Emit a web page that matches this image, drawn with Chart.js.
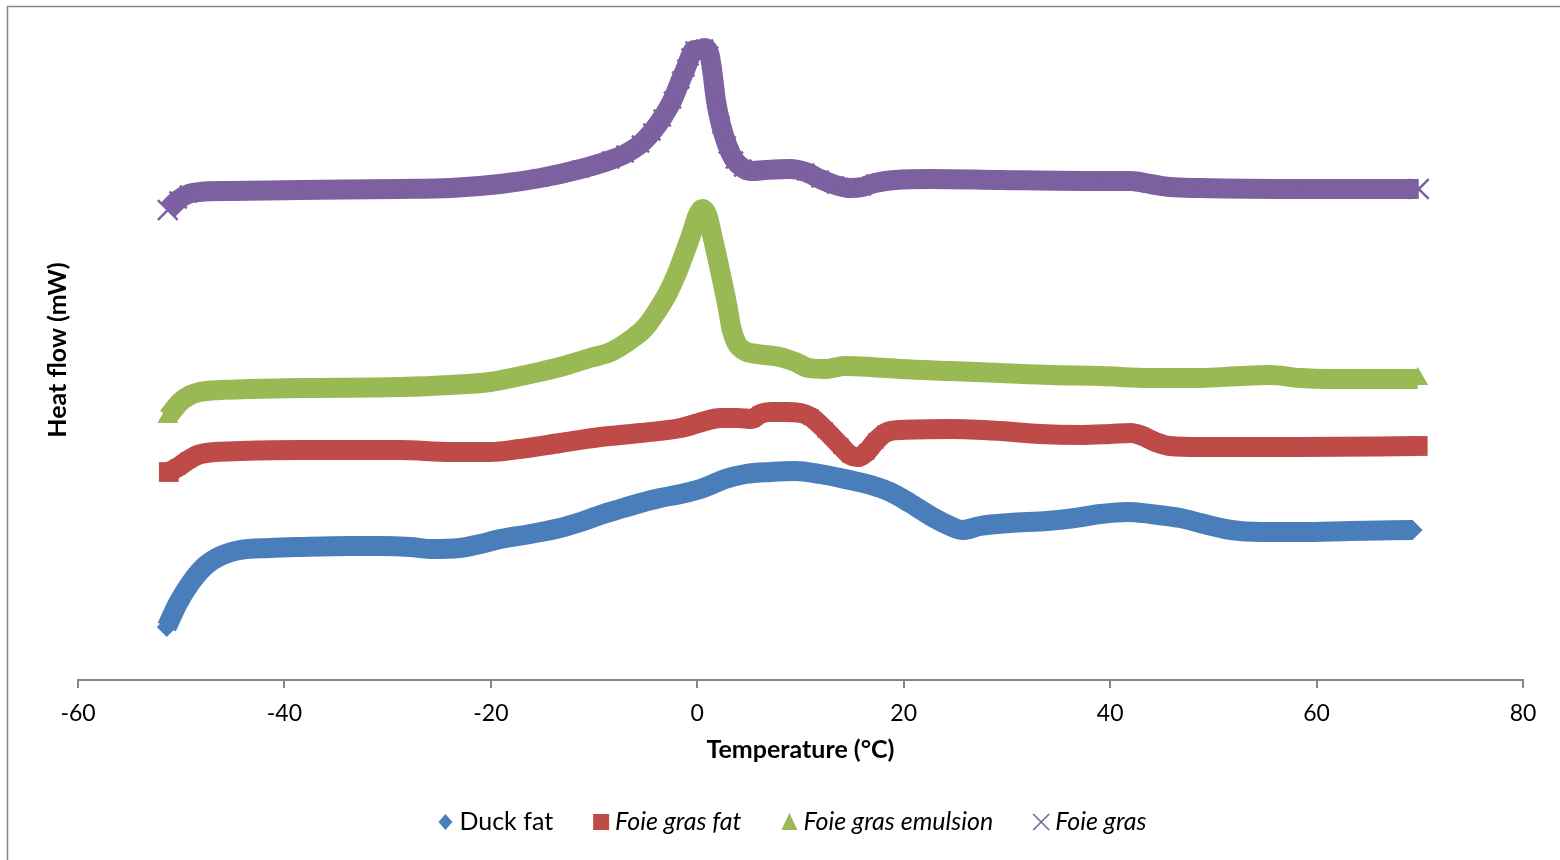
<!DOCTYPE html>
<html>
<head>
<meta charset="utf-8">
<title>DSC heat flow curves</title>
<script src="https://cdn.jsdelivr.net/npm/chart.js@4.4.1/dist/chart.umd.min.js"></script>
<style>
  html, body { margin: 0; padding: 0; background: #ffffff; }
  canvas { display: block; }
</style>
</head>
<body>
<canvas id="dsc" width="1560" height="860"></canvas>
<script>
// Temperature axis (°C)
const tempMin = -60;
const tempMax = 80;
const tempStep = 20;

// Series names, in legend order
const seriesNames = ['Duck fat', 'Foie gras fat', 'Foie gras emulsion', 'Foie gras'];

// Duck fat: temperature (°C) and heat flow (mW, offset curve)
const duckFatTemp = [-51.4, -50.3, -49.1, -47.7, -46.2, -44.3, -41.4, -38.5, -33.6, -30.7, -27.8, -25.9, -23.0, -21.0, -19.1, -16.2, -13.3, -11.3, -9.4, -7.5, -5.5, -3.6, -1.6, 0.3, 1.3, 2.7, 4.7, 7.1, 9.5, 11.9, 14.3, 16.8, 18.7, 20.6, 22.6, 24.5, 25.7, 27.4, 30.3, 33.9, 36.6, 39.1, 41.7, 43.9, 46.8, 48.7, 51.7, 54.6, 58.4, 63.3, 69.3];
const duckFatFlow = [5.3, 7.7, 9.7, 11.4, 12.4, 13.0, 13.2, 13.3, 13.4, 13.4, 13.3, 13.1, 13.2, 13.6, 14.1, 14.6, 15.2, 15.8, 16.5, 17.1, 17.7, 18.2, 18.6, 19.1, 19.5, 20.1, 20.6, 20.8, 20.9, 20.6, 20.1, 19.5, 18.8, 17.7, 16.4, 15.4, 15.0, 15.4, 15.7, 15.9, 16.2, 16.6, 16.8, 16.6, 16.2, 15.7, 15.0, 14.8, 14.8, 14.9, 15.0];

// Foie gras fat
const fgFatTemp = [-51.2, -50.3, -49.3, -48.4, -46.7, -44.3, -38.5, -28.8, -23.9, -20.1, -17.2, -13.3, -9.4, -5.5, -1.6, 0.8, 2.2, 3.9, 5.3, 6.1, 7.1, 8.5, 10.0, 11.0, 12.4, 13.9, 14.8, 15.6, 16.4, 17.3, 18.2, 19.7, 24.5, 29.4, 33.2, 37.1, 40.0, 42.0, 42.9, 44.4, 45.8, 48.7, 58.4, 69.8];
const fgFatFlow = [20.8, 21.3, 22.0, 22.5, 22.8, 22.9, 23.0, 23.0, 22.8, 22.8, 23.1, 23.7, 24.3, 24.7, 25.2, 25.9, 26.2, 26.2, 26.1, 26.6, 26.8, 26.8, 26.7, 26.3, 25.0, 23.4, 22.5, 22.3, 22.8, 23.9, 24.7, 25.0, 25.1, 24.9, 24.6, 24.5, 24.6, 24.7, 24.5, 23.8, 23.4, 23.3, 23.3, 23.4];

// Foie gras emulsion
const fgEmulsionTemp = [-51.3, -50.1, -49.1, -48.2, -46.2, -43.3, -38.5, -28.8, -23.9, -20.1, -16.2, -13.3, -10.4, -8.4, -6.5, -5.0, -3.9, -2.9, -2.0, -1.3, -0.6, 0.0, 0.5, 1.0, 1.5, 1.9, 2.4, 2.9, 3.3, 3.8, 4.6, 5.8, 8.0, 9.5, 10.8, 12.4, 14.3, 16.8, 19.7, 24.5, 29.4, 34.2, 39.1, 43.9, 48.7, 52.6, 55.5, 58.4, 61.3, 66.2, 69.8];
const fgEmulsionFlow = [26.3, 27.8, 28.5, 28.8, 29.0, 29.1, 29.2, 29.3, 29.5, 29.8, 30.6, 31.3, 32.2, 32.8, 34.0, 35.3, 36.9, 38.6, 40.6, 42.5, 44.5, 46.4, 47.1, 46.4, 44.2, 42.4, 40.0, 37.5, 35.2, 33.7, 32.9, 32.6, 32.3, 31.8, 31.2, 31.1, 31.4, 31.3, 31.1, 30.9, 30.7, 30.5, 30.4, 30.2, 30.2, 30.4, 30.5, 30.2, 30.1, 30.1, 30.1];

// Foie gras
const foieGrasTemp = [-51.3, -50.3, -49.3, -48.2, -45.3, -38.5, -28.8, -23.9, -19.1, -15.2, -11.3, -8.4, -7.0, -5.5, -4.4, -3.4, -2.4, -1.6, -1.1, -0.7, -0.3, 0.2, 0.7, 1.2, 1.5, 1.8, 2.3, 2.9, 3.6, 4.4, 5.3, 6.6, 9.0, 10.5, 11.9, 13.4, 14.8, 16.0, 17.2, 19.2, 22.6, 29.4, 39.1, 42.0, 43.9, 45.8, 48.7, 58.4, 69.9];
const foieGrasFlow = [47.0, 48.0, 48.6, 48.8, 48.9, 49.0, 49.1, 49.2, 49.6, 50.2, 51.1, 52.0, 52.6, 53.6, 54.8, 56.2, 58.0, 60.0, 61.2, 62.3, 63.0, 63.0, 63.2, 62.5, 60.5, 58.0, 55.5, 53.5, 52.0, 51.2, 50.9, 51.0, 51.1, 50.8, 50.1, 49.5, 49.2, 49.3, 49.7, 50.0, 50.1, 50.0, 49.9, 49.9, 49.6, 49.3, 49.2, 49.1, 49.1];

const toPoints = (xs, ys) => xs.map((x, i) => ({ x: x, y: ys[i] }));

const palette = {
  duck: '#4A7EBB',
  fat: '#BE4B48',
  emulsion: '#98B954',
  foie: '#7D60A0'
};

Chart.defaults.font.family = 'Lato, "Noto Sans", sans-serif';
Chart.defaults.color = '#000000';

// White page with the chart frame (top and left edges)
const framePlugin = {
  id: 'frame',
  beforeDraw(chart) {
    const ctx = chart.ctx;
    ctx.save();
    ctx.fillStyle = '#ffffff';
    ctx.fillRect(0, 0, chart.width, chart.height);
    ctx.strokeStyle = '#868686';
    ctx.lineWidth = 1.5;
    ctx.beginPath();
    ctx.moveTo(7.5, chart.height);
    ctx.lineTo(7.5, 6.5);
    ctx.lineTo(chart.width, 6.5);
    ctx.stroke();
    ctx.restore();
  }
};

// Legend row under the axis title; the sample names are set in italics
function drawKeyMarker(ctx, style, color, x, y) {
  ctx.save();
  ctx.fillStyle = color;
  ctx.strokeStyle = color;
  ctx.beginPath();
  if (style === 'rectRot') {
    ctx.moveTo(x, y - 8); ctx.lineTo(x + 7, y); ctx.lineTo(x, y + 8); ctx.lineTo(x - 7, y);
    ctx.closePath(); ctx.fill();
  } else if (style === 'rect') {
    ctx.rect(x - 8, y - 8, 16, 16); ctx.fill();
  } else if (style === 'triangle') {
    ctx.moveTo(x, y - 9); ctx.lineTo(x + 8, y + 8); ctx.lineTo(x - 8, y + 8);
    ctx.closePath(); ctx.fill();
  } else {
    ctx.lineWidth = 1.6;
    ctx.moveTo(x - 8, y - 8); ctx.lineTo(x + 8, y + 8);
    ctx.moveTo(x + 8, y - 8); ctx.lineTo(x - 8, y + 8);
    ctx.stroke();
  }
  ctx.restore();
}

const keyPlugin = {
  id: 'seriesKey',
  afterDraw(chart, args, opts) {
    const ctx = chart.ctx;
    const sets = chart.data.datasets;
    const fontFor = (i) => (opts.italic[i] ? 'italic ' : '') + opts.fontSize + 'px ' + Chart.defaults.font.family;
    ctx.save();
    const widths = sets.map((ds, i) => { ctx.font = fontFor(i); return ctx.measureText(ds.label).width; });
    let total = opts.markerHalf + (sets.length - 1) * opts.itemGap;
    widths.forEach(w => { total += opts.textGap + w; });
    let cx = opts.centerX - total / 2 + opts.markerHalf;
    sets.forEach((ds, i) => {
      drawKeyMarker(ctx, ds.pointStyle, ds.borderColor, cx, opts.y);
      ctx.font = fontFor(i);
      ctx.fillStyle = '#000000';
      ctx.textAlign = 'left';
      ctx.textBaseline = 'middle';
      ctx.fillText(ds.label, cx + opts.textGap, opts.y);
      cx += opts.textGap + widths[i] + opts.itemGap;
    });
    ctx.restore();
  }
};

// Marker size: full size at both ends of a curve, flush with the band inside it
function endAwareRadius(endRadius, innerRadius) {
  return (c) => {
    const n = c.dataset.data.length;
    return (c.dataIndex === 0 || c.dataIndex === n - 1) ? endRadius : innerRadius;
  };
}

function series(label, xs, ys, color, style, endRadius, innerRadius, order) {
  return {
    label: label,
    data: toPoints(xs, ys),
    borderColor: color,
    backgroundColor: color,
    borderWidth: 20,
    borderJoinStyle: 'round',
    borderCapStyle: 'butt',
    cubicInterpolationMode: 'monotone',
    pointStyle: style,
    pointRadius: endAwareRadius(endRadius, innerRadius),
    pointHoverRadius: endAwareRadius(endRadius, innerRadius),
    pointBackgroundColor: color,
    pointBorderColor: color,
    pointBorderWidth: style === 'crossRot' ? 2.5 : 0,
    fill: false,
    order: order
  };
}

new Chart(document.getElementById('dsc'), {
  type: 'line',
  data: {
    datasets: [
      series(seriesNames[0], duckFatTemp, duckFatFlow, palette.duck, 'rectRot', 10, 10, 4),
      series(seriesNames[1], fgFatTemp, fgFatFlow, palette.fat, 'rect', 14, 11, 3),
      series(seriesNames[2], fgEmulsionTemp, fgEmulsionFlow, palette.emulsion, 'triangle', 12, 10, 2),
      series(seriesNames[3], foieGrasTemp, foieGrasFlow, palette.foie, 'crossRot', 14, 12, 1)
    ]
  },
  options: {
    responsive: false,
    devicePixelRatio: 1,
    animation: false,
    layout: { padding: { left: 43, right: 37, top: 20, bottom: 97.4 } },
    plugins: {
      legend: { display: false },
      tooltip: { enabled: false },
      seriesKey: {
        italic: [false, true, true, true],
        fontSize: 25,
        markerHalf: 8,
        textGap: 14,
        itemGap: 48,
        centerX: 792,
        y: 822
      }
    },
    scales: {
      x: {
        type: 'linear',
        min: tempMin,
        max: tempMax,
        ticks: { stepSize: tempStep, color: '#000000', font: { size: 23 }, padding: 12 },
        grid: { display: true, drawOnChartArea: false, drawTicks: true, tickLength: 8, color: '#868686', lineWidth: 2 },
        border: { display: true, color: '#868686', width: 2 },
        title: {
          display: true,
          text: 'Temperature (°C)',
          color: '#000000',
          font: { size: 25, weight: 'bold', lineHeight: 1 },
          padding: { top: -2, bottom: 0 }
        }
      },
      y: {
        type: 'linear',
        min: 0,
        max: 66,
        ticks: { display: false },
        grid: { display: false, drawTicks: false },
        border: { display: false },
        title: {
          display: true,
          text: 'Heat flow (mW)',
          color: '#000000',
          font: { size: 25, weight: 'bold' },
          padding: { top: 0, bottom: 5 }
        }
      }
    }
  },
  plugins: [framePlugin, keyPlugin]
});
</script>
</body>
</html>
